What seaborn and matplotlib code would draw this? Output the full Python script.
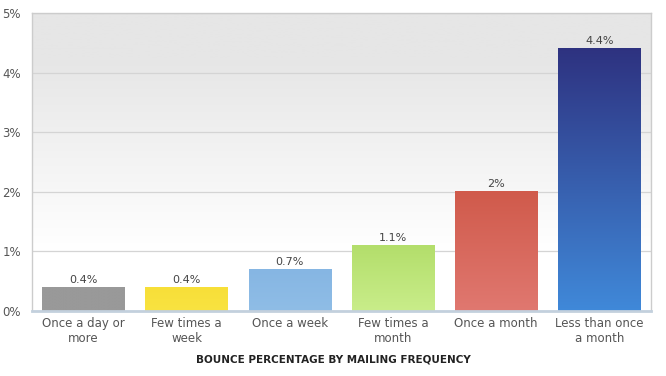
import numpy as np
import pandas as pd
import matplotlib
matplotlib.use("Agg")
import matplotlib.pyplot as plt
import seaborn as sns
from matplotlib.colors import LinearSegmentedColormap

categories = ["Once a day or\nmore", "Few times a\nweek", "Once a week",
              "Few times a\nmonth", "Once a month", "Less than once\na month"]
values = [0.4, 0.4, 0.7, 1.1, 2.0, 4.4]
value_labels = ["0.4%", "0.4%", "0.7%", "1.1%", "2%", "4.4%"]
top_colors = ["#999999", "#f7df38", "#86b6e3", "#b3de6b", "#d05a4b", "#2e3280"]
bottom_colors = ["#999999", "#f9e341", "#8fbde6", "#c9ed8a", "#e07870", "#4089d9"]
yticks = [0, 1, 2, 3, 4, 5]
ytick_labels = ["0%", "1%", "2%", "3%", "4%", "5%"]
title = "BOUNCE PERCENTAGE BY MAILING FREQUENCY"

sns.set_theme(style="white")
plt.rcParams['font.family'] = ['DejaVu Sans']

fig = plt.figure(figsize=(6.66, 3.76), dpi=100)
ax = fig.add_axes([32/666, 1-311/376, (651-32)/666, (311-13)/376])

df = pd.DataFrame({"cat": categories, "val": values})
sns.barplot(data=df, x="cat", y="val", ax=ax, width=0.8, color="#999999", zorder=3)

ax.set_ylim(0, 5)
ax.set_xlim(-0.5, len(categories)-0.5)

# background gradient: white below ~1%, fading to light grey near the top
bg = LinearSegmentedColormap.from_list(
    "bg", [(0.0, "#ffffff"), (0.2, "#ffffff"), (0.85, "#e6e6e6"), (1.0, "#e6e6e6")])
ax.imshow(np.linspace(0, 1, 256).reshape(-1, 1), cmap=bg, origin="lower",
          extent=[0, 1, 0, 1], transform=ax.transAxes, aspect="auto", zorder=0)

# gradient bars
for i, p in enumerate(ax.patches):
    x0, y0 = p.get_x(), p.get_y()
    w, h = p.get_width(), p.get_height()
    cm = LinearSegmentedColormap.from_list(f"c{i}", [bottom_colors[i], top_colors[i]])
    ax.imshow(np.linspace(0, 1, 256).reshape(-1, 1), cmap=cm, origin="lower",
              extent=[x0, x0+w, y0, y0+h], aspect="auto", zorder=3)
    p.set_alpha(0)
    ax.text(x0 + w/2, y0 + h + 0.04, value_labels[i], ha="center", va="bottom",
            fontsize=8, color="#444444", zorder=4)

ax.set_xlim(-0.5, len(categories)-0.5)
ax.set_ylim(0, 5)

ax.set_yticks(yticks)
ax.set_yticklabels(ytick_labels)
ax.yaxis.grid(True, color="#d4d4d4", linewidth=0.9, zorder=1)
ax.set_axisbelow(True)
ax.tick_params(axis="y", labelsize=8.5, labelcolor="#555555", length=0, pad=8)
ax.tick_params(axis="x", labelsize=8.5, labelcolor="#555555", length=0, pad=4)
ax.set_xlabel("")
ax.set_ylabel("")

for s in ["top", "right", "left"]:
    ax.spines[s].set_color("#cccccc")
    ax.spines[s].set_linewidth(1.0)
ax.spines["bottom"].set_color("#c3d0dd")
ax.spines["bottom"].set_linewidth(2.0)
ax.spines["bottom"].set_zorder(5)

fig.text(333/666, 1-360/376, title, ha="center", va="center", fontsize=7.5,
         fontweight="bold", color="#222222")

fig.savefig("out.png", dpi=100)
